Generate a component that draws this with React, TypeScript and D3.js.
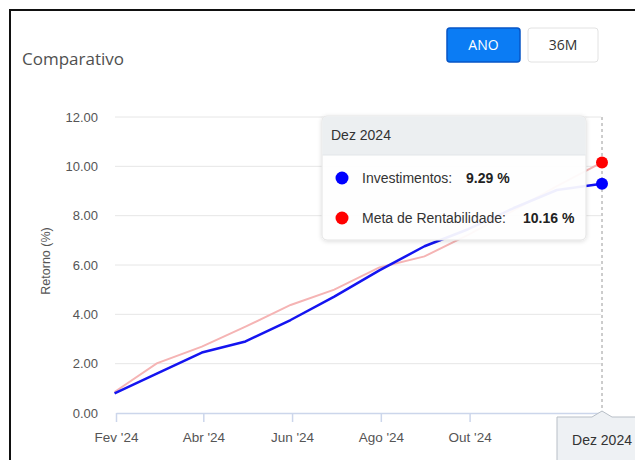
import React, { useEffect, useRef } from 'react'
import * as d3 from 'd3'

// month-end dates of each point
const dates = [
  '2024-01-31', '2024-02-29', '2024-03-31', '2024-04-30', '2024-05-31', '2024-06-30',
  '2024-07-31', '2024-08-31', '2024-09-30', '2024-10-31', '2024-11-30', '2024-12-31',
]
const investimentos = [0.80, 1.60, 2.45, 2.90, 3.77, 4.72, 5.78, 6.76, 7.45, 8.30, 9.04, 9.29]
const meta = [0.85, 2.01, 2.69, 3.50, 4.38, 5.00, 5.90, 6.35, 7.22, 8.20, 9.20, 10.16]

// the Dez '24 tick sits under the crosshair label, so it is left out
const xTickDates = ['2024-02-01', '2024-04-01', '2024-06-01', '2024-08-01', '2024-10-01']
const xTickLabels = ["Fev '24", "Abr '24", "Jun '24", "Ago '24", "Out '24"]
const yTicks = [0, 2, 4, 6, 8, 10, 12]

const W = 635
const H = 460
const FONT = '"Liberation Sans", Arial, sans-serif'

export default function App() {
  const svgRef = useRef<SVGSVGElement | null>(null)

  useEffect(() => {
    const parse = d3.timeParse('%Y-%m-%d')
    const svg = d3.select(svgRef.current)
    svg.selectAll('*').remove()

    const x = d3.scaleTime()
      .domain([parse('2024-02-01')!, parse('2024-12-31')!])
      .range([116, 602])
    const y = d3.scaleLinear().domain([0, 12]).range([413, 117])

    const defs = svg.append('defs')
    const f = defs.append('filter').attr('id', 'shadow').attr('x', '-10%').attr('y', '-10%').attr('width', '120%').attr('height', '130%')
    f.append('feDropShadow').attr('dx', 0).attr('dy', 1).attr('stdDeviation', 2).attr('flood-color', '#000').attr('flood-opacity', 0.15)

    // frame
    svg.append('rect').attr('x', 10).attr('y', 10).attr('width', 700).attr('height', 600)
      .attr('fill', '#fff').attr('stroke', '#111').attr('stroke-width', 2)

    // header
    svg.append('text').attr('x', 22).attr('y', 65).text('Comparativo')
      .attr('font-family', '"Open Sans", sans-serif').attr('font-size', 17).attr('fill', '#505050')

    svg.append('rect').attr('x', 447).attr('y', 28).attr('width', 73).attr('height', 34).attr('rx', 3)
      .attr('fill', '#0b7cf4').attr('stroke', '#0755c6').attr('stroke-width', 1.5)
    svg.append('text').attr('x', 483.5).attr('y', 50).attr('text-anchor', 'middle').text('ANO')
      .attr('font-family', '"Open Sans", sans-serif').attr('font-size', 14).attr('fill', '#fff')
    svg.append('rect').attr('x', 528).attr('y', 28).attr('width', 70).attr('height', 34).attr('rx', 3)
      .attr('fill', '#fff').attr('stroke', '#e2e2e2')
    svg.append('text').attr('x', 563).attr('y', 50).attr('text-anchor', 'middle').text('36M')
      .attr('font-family', '"Open Sans", sans-serif').attr('font-size', 14).attr('fill', '#333')

    // grid
    svg.append('g').selectAll('line').data(yTicks.slice(1)).join('line')
      .attr('x1', 115).attr('x2', 601)
      .attr('y1', d => y(d)).attr('y2', d => y(d))
      .attr('stroke', '#e6e6e6')

    // y axis
    svg.append('g').attr('transform', 'translate(116,0)')
      .call(d3.axisLeft(y).tickValues(yTicks).tickFormat(d3.format('.2f')).tickSize(0).tickPadding(18))
      .call(g => g.select('.domain').remove())
      .selectAll('text').attr('font-family', FONT).attr('font-size', 13).attr('fill', '#555')

    svg.append('text').attr('transform', 'translate(50,261) rotate(-90)').attr('text-anchor', 'middle')
      .text('Retorno (%)').attr('font-family', FONT).attr('font-size', 12.5).attr('fill', '#555')

    // x axis
    const xTicks = xTickDates.map(d => parse(d)!)
    svg.append('g').attr('transform', 'translate(0,413)')
      .call(d3.axisBottom(x).tickValues(xTicks).tickFormat((_, i) => xTickLabels[i]).tickSize(9).tickSizeOuter(0).tickPadding(10))
      .call(g => g.select('.domain').attr('stroke', '#ccd6eb').attr('stroke-width', 1.5))
      .call(g => g.selectAll('.tick line').attr('stroke', '#ccd6eb').attr('stroke-width', 1.5))
      .selectAll('text').attr('font-family', FONT).attr('font-size', 13.5).attr('fill', '#555')

    // crosshair
    const last = parse(dates[dates.length - 1])!
    svg.append('line').attr('x1', x(last)).attr('x2', x(last)).attr('y1', 117).attr('y2', 413)
      .attr('stroke', '#9a9a9a').attr('stroke-dasharray', '3,3')

    // lines
    const pts = dates.map((d, i) => ({ date: parse(d)!, inv: investimentos[i], meta: meta[i] }))
    const lineMeta = d3.line<typeof pts[0]>().x(d => x(d.date)).y(d => y(d.meta))
    const lineInv = d3.line<typeof pts[0]>().x(d => x(d.date)).y(d => y(d.inv))
    svg.append('path').datum(pts).attr('d', lineMeta).attr('fill', 'none')
      .attr('stroke', '#f5b4b4').attr('stroke-width', 2)
    svg.append('path').datum(pts).attr('d', lineInv).attr('fill', 'none')
      .attr('stroke', '#1414f0').attr('stroke-width', 2.5).attr('stroke-linejoin', 'round')

    // crosshair label
    const cx = x(last)
    svg.append('path')
      .attr('d', `M557,417 L${cx - 10},417 L${cx},411 L${cx + 10},417 L645,417 L645,470 L557,470 Z`)
      .attr('fill', '#eef1f4').attr('stroke', '#b8bfc7')
    svg.append('text').attr('x', cx).attr('y', 445).attr('text-anchor', 'middle').text('Dez 2024')
      .attr('font-family', FONT).attr('font-size', 14).attr('fill', '#333')

    // tooltip
    const tt = svg.append('g').attr('transform', 'translate(322,116)')
    tt.append('rect').attr('width', 264).attr('height', 124).attr('rx', 5)
      .attr('fill', '#fff').attr('fill-opacity', 0.93).attr('stroke', '#e4e4e4').attr('filter', 'url(#shadow)')
    tt.append('path').attr('d', 'M0.5,39 L0.5,5 Q0.5,0.5 5,0.5 L259,0.5 Q263.5,0.5 263.5,5 L263.5,39 Z')
      .attr('fill', '#eceff1')
    tt.append('line').attr('x1', 0.5).attr('x2', 263.5).attr('y1', 39).attr('y2', 39).attr('stroke', '#e2e5e8')
    tt.append('text').attr('x', 9).attr('y', 24).text('Dez 2024')
      .attr('font-family', FONT).attr('font-size', 14).attr('fill', '#333')

    const rows = [
      { name: 'Investimentos:', value: investimentos[11], color: '#0000ff', vx: 144 },
      { name: 'Meta de Rentabilidade:', value: meta[11], color: '#ff0000', vx: 201 },
    ]
    rows.forEach((r, i) => {
      const ry = 62 + i * 40
      tt.append('circle').attr('cx', 20).attr('cy', ry).attr('r', 6.5).attr('fill', r.color)
      tt.append('text').attr('x', 40).attr('y', ry + 5).text(r.name)
        .attr('font-family', FONT).attr('font-size', 14).attr('fill', '#333')
      tt.append('text').attr('x', r.vx).attr('y', ry + 5).text(`${r.value.toFixed(2)} %`)
        .attr('font-family', FONT).attr('font-size', 14).attr('font-weight', 'bold').attr('fill', '#222')
    })

    // hover markers
    svg.append('circle').attr('cx', cx).attr('cy', y(meta[11])).attr('r', 6).attr('fill', '#ff0000')
    svg.append('circle').attr('cx', cx).attr('cy', y(investimentos[11])).attr('r', 6).attr('fill', '#0000ff')
  }, [])

  return (
    <div style={{ position: 'absolute', left: 0, top: 0 }}>
      <svg ref={svgRef} width={W} height={H} style={{ display: 'block' }}></svg>
    </div>
  )
}
